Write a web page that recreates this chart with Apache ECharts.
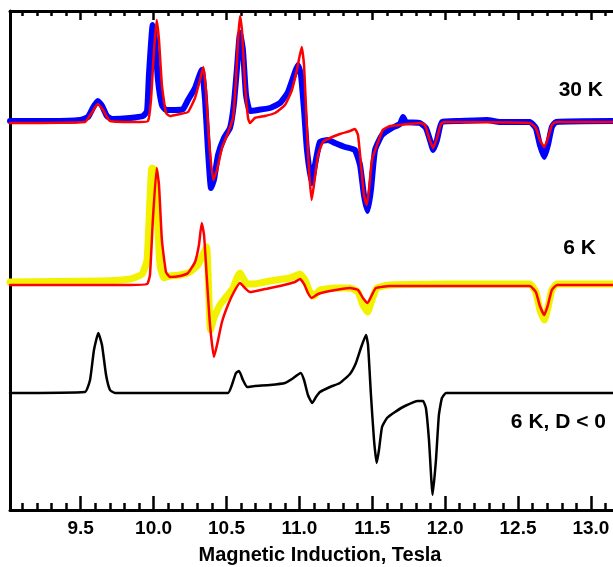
<!DOCTYPE html>
<html>
<head>
<meta charset="utf-8">
<script src="https://cdn.jsdelivr.net/npm/echarts@6.0.0/dist/echarts.min.js"></script>
<style>
  html, body { margin: 0; padding: 0; background: #fff; }
  #chart { width: 613px; height: 567px; }
</style>
</head>
<body>
<div id="chart"></div>
<script>
// field (Tesla) / signal pairs; signal is relative to each trace's own baseline
const exp30K = [
  [9.015, 1], [9.289, 1], [9.495, 2], [9.55, 5], [9.583, 14], [9.617, 21], [9.647, 16], [9.68, 6], [9.715, 3],
  [9.838, 4], [9.927, 6], [9.955, 11], [9.968, 47], [9.994, 97], [10.01, 82], [10.03, 42], [10.057, 17],
  [10.085, 12], [10.147, 12], [10.202, 13], [10.236, 22], [10.284, 34], [10.33, 52], [10.353, 22], [10.373, -28],
  [10.394, -66], [10.414, -58], [10.442, -33], [10.483, -16], [10.524, -6], [10.55, 17], [10.571, 52], [10.593, 89],
  [10.613, 72], [10.634, 27], [10.661, 11], [10.716, 12], [10.798, 14], [10.867, 19], [10.922, 30], [10.97, 50],
  [10.99, 57], [11.011, 47], [11.032, 12], [11.052, -28], [11.084, -61], [11.107, -43], [11.141, -20], [11.196, -18],
  [11.244, -21], [11.313, -25], [11.381, -28], [11.416, -43], [11.443, -73], [11.468, -89], [11.491, -68],
  [11.519, -28], [11.567, -13], [11.635, -6], [11.69, -2], [11.711, 5], [11.731, 0], [11.827, -1], [11.868, -6],
  [11.896, -18], [11.918, -28], [11.944, -18], [11.978, 0], [12.102, 1], [12.287, 2], [12.376, 0], [12.581, 0],
  [12.622, -6], [12.65, -23], [12.68, -35], [12.705, -23], [12.732, -5], [12.76, 0], [13.151, 1], [13.268, 1]
];
const fit30K = [
  [9.015, -1], [9.529, 0], [9.571, 8], [9.617, 18], [9.653, 12], [9.701, 1], [9.907, 0], [9.962, 1], [9.982, 22],
  [10.003, 72], [10.021, 102], [10.037, 82], [10.057, 37], [10.085, 9], [10.112, 6], [10.181, 8], [10.236, 10],
  [10.284, 24], [10.318, 42], [10.341, 55], [10.359, 32], [10.38, -18], [10.409, -58], [10.435, -48], [10.469, -26],
  [10.51, -11], [10.545, 4], [10.565, 42], [10.579, 82], [10.593, 106], [10.606, 92], [10.627, 37], [10.648, 4],
  [10.661, -1], [10.695, 4], [10.764, 6], [10.833, 9], [10.901, 17], [10.949, 32], [10.983, 52], [11.016, 75],
  [11.032, 57], [11.052, -8], [11.066, -48], [11.084, -78], [11.1, -63], [11.128, -33], [11.162, -20], [11.21, -16],
  [11.278, -12], [11.347, -9], [11.381, -7], [11.402, -13], [11.423, -43], [11.443, -73], [11.462, -83],
  [11.477, -68], [11.498, -38], [11.53, -24], [11.572, -8], [11.621, -4], [11.69, -3], [11.827, -1], [11.861, -3],
  [11.889, -16], [11.918, -26], [11.944, -16], [11.971, -2], [11.992, 0], [12.581, -1], [12.622, -6], [12.65, -18],
  [12.68, -25], [12.705, -16], [12.732, -3], [12.76, 0], [13.268, 0]
];
const exp6K = [
  [9.015, 1], [9.632, 2], [9.838, 4], [9.921, 9], [9.955, 23], [9.975, 83], [9.988, 115], [10.009, 113],
  [10.023, 73], [10.044, 18], [10.071, 5], [10.112, 7], [10.181, 8], [10.25, 11], [10.304, 18], [10.346, 31],
  [10.364, 36], [10.373, 13], [10.38, -17], [10.39, -47], [10.414, -35], [10.455, -22], [10.503, -13],
  [10.545, -5], [10.571, 5], [10.593, 10], [10.613, 5], [10.641, -1], [10.695, -1], [10.798, 2], [10.936, 5],
  [11.004, 9], [11.038, 3], [11.073, -9], [11.1, -13], [11.141, -7], [11.244, -5], [11.347, -5], [11.402, -9],
  [11.436, -22], [11.468, -29], [11.498, -17], [11.532, -5], [11.621, -2], [12.033, -1], [12.581, -1],
  [12.622, -9], [12.65, -27], [12.68, -37], [12.705, -25], [12.732, -7], [12.767, -1], [13.268, -1]
];
const fit6K = [
  [9.015, -2], [9.838, -2], [9.955, -1], [9.975, 8], [9.995, 63], [10.021, 115], [10.037, 98], [10.057, 43],
  [10.085, 11], [10.112, 6], [10.181, 7], [10.236, 10], [10.284, 21], [10.311, 38], [10.33, 60], [10.346, 48],
  [10.366, 3], [10.387, -42], [10.414, -74], [10.435, -62], [10.469, -39], [10.51, -22], [10.551, -9],
  [10.593, 0], [10.62, -4], [10.661, -9], [10.764, -6], [10.867, -3], [10.97, 1], [11.004, 4], [11.032, -1],
  [11.059, -10], [11.084, -15], [11.128, -11], [11.21, -8], [11.347, -5], [11.402, -7], [11.436, -15],
  [11.468, -20], [11.491, -14], [11.525, -5], [11.621, -3], [12.581, -3], [12.622, -9], [12.65, -23],
  [12.68, -32], [12.705, -22], [12.732, -7], [12.767, -2], [13.268, -2]
];
const simNegD = [
  [9.015, 0], [9.529, 1], [9.564, 13], [9.591, 43], [9.621, 60], [9.646, 48], [9.674, 18], [9.701, 3], [9.735, 0],
  [10.51, 0], [10.537, 8], [10.565, 20], [10.586, 22], [10.613, 13], [10.641, 6], [10.695, 7], [10.798, 8],
  [10.901, 10], [10.949, 14], [11.009, 20], [11.032, 13], [11.059, -2], [11.088, -10], [11.114, -4], [11.141, 1],
  [11.21, 6], [11.278, 10], [11.347, 19], [11.388, 30], [11.422, 45], [11.457, 58], [11.471, 48], [11.491, -2],
  [11.512, -47], [11.53, -70], [11.546, -57], [11.567, -34], [11.601, -25], [11.656, -19], [11.724, -13],
  [11.813, -8], [11.848, -8], [11.868, -15], [11.889, -47], [11.914, -102], [11.937, -67], [11.957, -22],
  [11.978, -5], [12.006, 0], [13.268, 0]
];

// vertical offsets of the stacked traces (same arbitrary units as the signal)
const offset30K = 388;
const offset6K = 227;
const offsetNegD = 117;

const majorTicks = [9.5, 10.0, 10.5, 11.0, 11.5, 12.0, 12.5, 13.0];
const minorTicks = [];
for (let v = 91; v <= 132; v++) minorTicks.push(v / 10);

const traceLabels = ['30 K', '6 K', '6 K, D < 0'];

const shift = (pts, off) => pts.map(p => [p[0], p[1] + off]);

const chart = echarts.init(document.getElementById('chart'));

const font = '"Liberation Sans", Arial, sans-serif';
const xBase = {
  type: 'value',
  gridIndex: 0,
  min: 9.015,
  max: 13.268,
  splitLine: { show: false },
  axisLine: { show: false },
  axisLabel: { show: false },
  axisTick: { show: false }
};

const lineSeries = (name, pts, off, color, width, z) => ({
  name: name,
  type: 'line',
  data: shift(pts, off),
  showSymbol: false,
  smooth: 0.15,
  lineStyle: { color: color, width: width, join: 'round', cap: 'round' },
  z: z
});

const option = {
  animation: false,
  backgroundColor: '#fff',
  grid: { left: 10, top: 11, width: 620, bottom: 57, containLabel: false, outerBoundsMode: 'none' },
  xAxis: [
    Object.assign({}, xBase, {
      position: 'bottom',
      axisLine: { show: true, lineStyle: { color: '#000', width: 3 } },
      axisTick: { show: true, inside: true, length: 14, customValues: majorTicks, lineStyle: { color: '#000', width: 2.5 } },
      axisLabel: {
        show: true, customValues: majorTicks, margin: 9,
        formatter: v => v.toFixed(1),
        color: '#000', fontWeight: 'bold', fontSize: 19, fontFamily: font
      },
      name: 'Magnetic Induction, Tesla',
      nameLocation: 'middle',
      nameGap: 35,
      nameTextStyle: { color: '#000', fontWeight: 'bold', fontSize: 20, fontFamily: font }
    }),
    Object.assign({}, xBase, {
      position: 'bottom',
      axisTick: { show: true, inside: true, length: 7, customValues: minorTicks, lineStyle: { color: '#000', width: 2.5 } }
    }),
    Object.assign({}, xBase, {
      position: 'top',
      axisLine: { show: true, lineStyle: { color: '#000', width: 3 } },
      axisTick: { show: true, inside: true, length: 9, customValues: majorTicks, lineStyle: { color: '#000', width: 2.5 } }
    }),
    Object.assign({}, xBase, {
      position: 'top',
      axisTick: { show: true, inside: true, length: 5, customValues: minorTicks, lineStyle: { color: '#000', width: 2.5 } }
    })
  ],
  yAxis: {
    type: 'value',
    min: 0,
    max: 499,
    splitLine: { show: false },
    axisTick: { show: false },
    axisLabel: { show: false },
    axisLine: { show: true, lineStyle: { color: '#000', width: 3 } }
  },
  series: [
    lineSeries('30 K exp', exp30K, offset30K, '#0000ff', 6, 2),
    lineSeries('30 K fit', fit30K, offset30K, '#ff0000', 2.5, 3),
    lineSeries('6 K exp', exp6K, offset6K, '#f2f200', 7, 2),
    lineSeries('6 K fit', fit6K, offset6K, '#ff0000', 2.5, 3),
    lineSeries('6 K, D < 0', simNegD, offsetNegD, '#000000', 2.5, 3)
  ],
  graphic: [
    { type: 'text', x: 603, y: 90, style: { text: traceLabels[0], fill: '#000', font: 'bold 21px ' + font, align: 'right', verticalAlign: 'middle' } },
    { type: 'text', x: 596, y: 248, style: { text: traceLabels[1], fill: '#000', font: 'bold 21px ' + font, align: 'right', verticalAlign: 'middle' } },
    { type: 'text', x: 606, y: 422, style: { text: traceLabels[2], fill: '#000', font: 'bold 21px ' + font, align: 'right', verticalAlign: 'middle' } }
  ]
};

chart.setOption(option);
</script>
</body>
</html>
